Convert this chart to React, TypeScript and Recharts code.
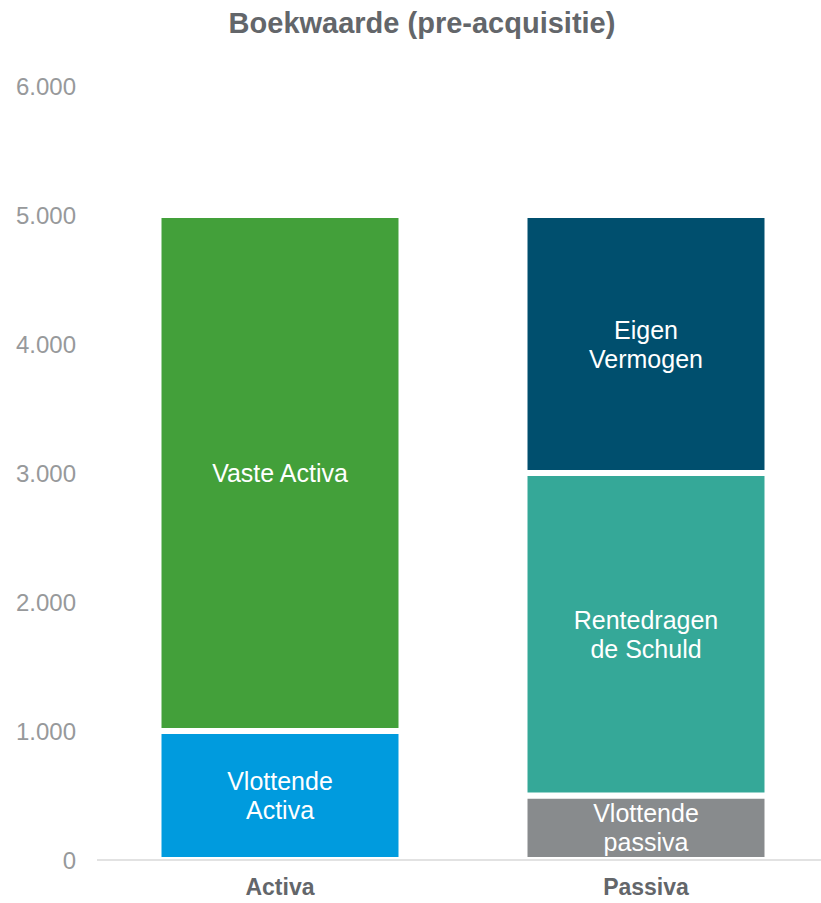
import React from 'react';
import { BarChart, Bar, XAxis, YAxis, LabelList } from 'recharts';

const categories = ['Activa', 'Passiva'];
const vlottendeActiva = [1000, 0];
const vasteActiva = [4000, 0];
const vlottendePassiva = [0, 500];
const rentedragendeSchuld = [0, 2500];
const eigenVermogen = [0, 2000];
const yTicks = [0, 1000, 2000, 3000, 4000, 5000, 6000];

const series = [
  { key: 'vlottendeActiva', lines: ['Vlottende', 'Activa'], color: '#009BDE' },
  { key: 'vasteActiva', lines: ['Vaste Activa'], color: '#43A03A' },
  { key: 'vlottendePassiva', lines: ['Vlottende', 'passiva'], color: '#888B8D' },
  { key: 'rentedragendeSchuld', lines: ['Rentedragen', 'de Schuld'], color: '#35A898' },
  { key: 'eigenVermogen', lines: ['Eigen', 'Vermogen'], color: '#004F6E' },
];

const data = categories.map((name, i) => ({
  name,
  vlottendeActiva: vlottendeActiva[i],
  vasteActiva: vasteActiva[i],
  vlottendePassiva: vlottendePassiva[i],
  rentedragendeSchuld: rentedragendeSchuld[i],
  eigenVermogen: eigenVermogen[i],
}));

const FONT = '"Liberation Sans", Arial, sans-serif';
const formatThousands = (v: number) => String(v).replace(/\B(?=(\d{3})+(?!\d))/g, '.');

function renderLabel(props: any, lines: string[]) {
  const { x, y, width, height, value } = props;
  if (!value) return null;
  const cx = Number(x) + Number(width) / 2;
  const cy = Number(y) + Number(height) / 2;
  const lh = 29;
  const start = cy - ((lines.length - 1) * lh) / 2;
  return (
    <text
      x={cx}
      y={start}
      fill="#FFFFFF"
      fontSize={25}
      fontFamily={FONT}
      textAnchor="middle"
      dominantBaseline="central"
    >
      {lines.map((l, i) => (
        <tspan key={i} x={cx} y={start + i * lh} dominantBaseline="central">
          {l}
        </tspan>
      ))}
    </text>
  );
}

export default function App() {
  return (
    <div style={{ position: 'absolute', left: 0, top: 0, width: 821, height: 903, overflow: 'hidden', background: '#fff' }}>
      <div
        style={{
          position: 'absolute',
          left: 0,
          top: 8,
          width: 844,
          textAlign: 'center',
          fontFamily: FONT,
          fontWeight: 'bold',
          fontSize: 29,
          lineHeight: '30px',
          color: '#63666A',
        }}
      >
        Boekwaarde (pre-acquisitie)
      </div>
      <BarChart
        width={829}
        height={903}
        data={data}
        margin={{ top: 86, right: 0, left: 0, bottom: 0 }}
        barCategoryGap={61.5}
      >
        <XAxis
          dataKey="name"
          height={43}
          tickLine={false}
          tickSize={0}
          tickMargin={19}
          axisLine={{ stroke: '#D9D9D9', strokeWidth: 1.5 }}
          tick={{ fill: '#63666A', fontSize: 23, fontWeight: 'bold', fontFamily: FONT }}
        />
        <YAxis
          width={97}
          domain={[0, 6000]}
          ticks={yTicks}
          interval={0}
          axisLine={false}
          tickLine={false}
          tickSize={0}
          tickMargin={21}
          tickFormatter={formatThousands}
          tick={{ fill: '#97999B', fontSize: 24, fontFamily: FONT }}
        />
        {series.map((s) => (
          <Bar
            key={s.key}
            dataKey={s.key}
            stackId="a"
            fill={s.color}
            stroke="#FFFFFF"
            strokeWidth={6}
            isAnimationActive={false}
          >
            <LabelList dataKey={s.key} content={(p: any) => renderLabel(p, s.lines)} />
          </Bar>
        ))}
      </BarChart>
    </div>
  );
}
